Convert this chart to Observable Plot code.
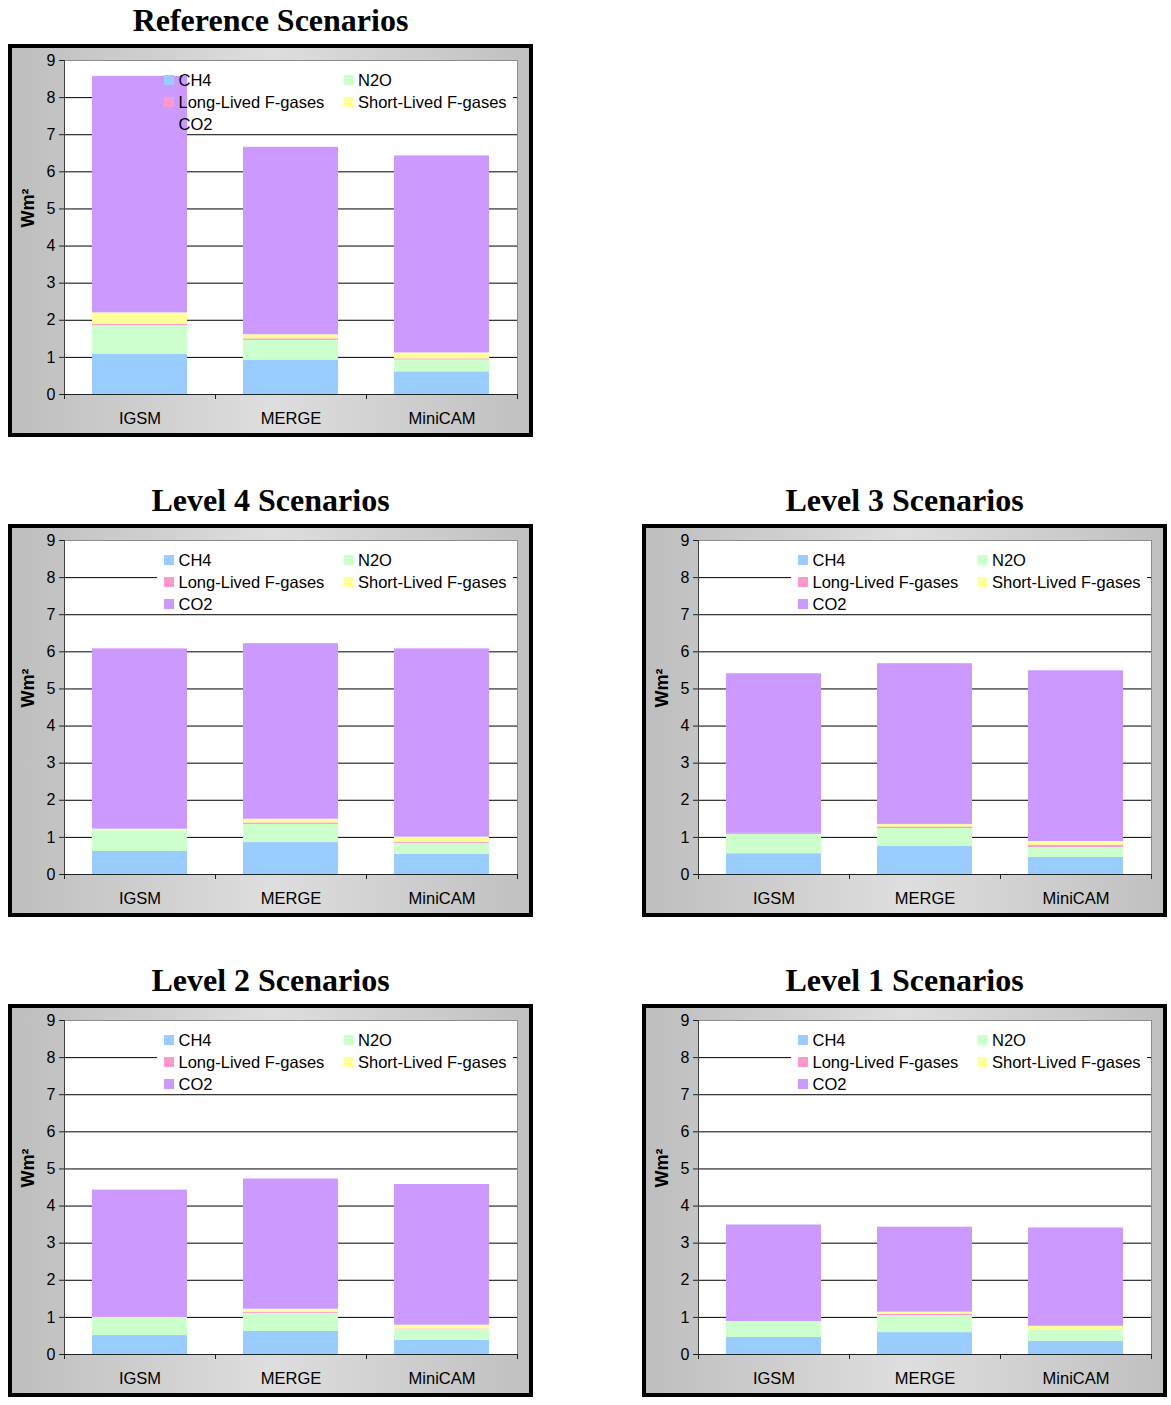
<!DOCTYPE html>
<html><head><meta charset="utf-8">
<script src="https://cdn.jsdelivr.net/npm/d3@7"></script>
<script src="https://cdn.jsdelivr.net/npm/@observablehq/plot@0.6"></script>
<style>
body{margin:0;background:#fff;}
#page{position:relative;width:1171px;height:1405px;}
.title{position:absolute;width:525px;text-align:center;font-family:"Liberation Serif","Times New Roman",serif;font-weight:bold;font-size:32px;line-height:36px;}
.frame{position:absolute;width:525px;height:393px;box-sizing:border-box;border:4px solid #000;background:linear-gradient(to right,#bebebe,#dedede 50%,#c0c0c0);}
.frame svg{display:block;}
</style></head><body><div id="page"></div>
<script>
// ---- data ----
const scenarios = ["Reference Scenarios", "Level 4 Scenarios", "Level 3 Scenarios", "Level 2 Scenarios", "Level 1 Scenarios"];
const models = ["IGSM", "MERGE", "MiniCAM"];
const gases = ["CH4", "N2O", "Long-Lived F-gases", "Short-Lived F-gases", "CO2"];
const colors = ["#99ccff", "#ccffcc", "#ff99cc", "#ffff99", "#cc99ff"];
const yTicks = [0, 1, 2, 3, 4, 5, 6, 7, 8, 9];
// values per scenario (Reference, L4, L3, L2, L1), each [IGSM, MERGE, MiniCAM]
const ch4 = [[1.09, 0.93, 0.61], [0.62, 0.86, 0.54], [0.56, 0.76, 0.46], [0.51, 0.62, 0.38], [0.46, 0.59, 0.35]];
const n2o = [[0.77, 0.53, 0.32], [0.56, 0.49, 0.30], [0.52, 0.48, 0.27], [0.49, 0.49, 0.30], [0.43, 0.46, 0.30]];
const longLived = [[0.03, 0.04, 0.03], [0.00, 0.04, 0.03], [0.03, 0.04, 0.06], [0.00, 0.03, 0.01], [0.00, 0.03, 0.00]];
const shortLived = [[0.31, 0.11, 0.16], [0.04, 0.10, 0.14], [0.00, 0.07, 0.10], [0.00, 0.08, 0.10], [0.00, 0.06, 0.11]];
const co2 = [[6.37, 5.05, 5.31], [4.86, 4.73, 5.07], [4.30, 4.33, 4.60], [3.43, 3.51, 3.79], [2.60, 2.29, 2.65]];
const series = [ch4, n2o, longLived, shortLived, co2];

// ---- layout ----
const framePos = [[8, 44], [8, 524], [642, 524], [8, 1004], [642, 1004]];
const page = document.getElementById("page");
const FONT = "'Liberation Sans', Arial, Helvetica, sans-serif";

function legendBg() {
  const g = d3.create("svg:g");
  g.append("rect").attr("x", 145).attr("y", 20).attr("width", 356).attr("height", 65).attr("fill", "white");
  return g.node();
}
function legendMark(index, scales) {
  const g = d3.create("svg:g").attr("font-family", FONT).attr("font-size", 16.5).attr("text-anchor", "start");
  gases.forEach((gas, i) => {
    const col = i % 2, row = Math.floor(i / 2);
    const sx = col === 0 ? 152 : 331.5, ty = 32 + row * 22;
    g.append("rect").attr("x", sx).attr("y", ty - 5).attr("width", 10).attr("height", 10).attr("fill", scales.color(gas));
    g.append("text").attr("x", sx + 14.5).attr("y", ty).attr("dy", "0.36em").attr("fill", "#000").text(gas);
  });
  return g.node();
}
function leftLine(index, scales, values, dims) {
  const g = d3.create("svg:g");
  g.append("line").attr("x1", dims.marginLeft + 0.5).attr("x2", dims.marginLeft + 0.5)
    .attr("y1", dims.marginTop).attr("y2", dims.height - dims.marginBottom)
    .attr("stroke", "#404040");
  return g.node();
}

scenarios.forEach((name, si) => {
  const [fx, fy] = framePos[si];
  const t = document.createElement("div");
  t.className = "title";
  t.style.left = fx + "px";
  t.style.top = (fy - 42) + "px";
  t.textContent = name;
  page.appendChild(t);

  const f = document.createElement("div");
  f.className = "frame";
  f.style.left = fx + "px";
  f.style.top = fy + "px";
  page.appendChild(f);

  const data = [];
  gases.forEach((g, gi) => models.forEach((m, mi) => data.push({model: m, gas: g, value: series[gi][si][mi]})));

  const chart = Plot.plot({
    width: 517, height: 385,
    marginLeft: 52, marginRight: 12, marginTop: 12, marginBottom: 39,
    style: {fontFamily: FONT, fontSize: "16px", background: "transparent", overflow: "visible", color: "#000"},
    x: {domain: models, paddingInner: 0.37, paddingOuter: 0.185, label: null},
    y: {domain: [0, 9], label: null},
    color: {domain: gases, range: colors},
    marks: [
      Plot.frame({fill: "white", stroke: "#8c8c8c"}),
      Plot.ruleY(yTicks.slice(1, 9), {stroke: "#000"}),
      legendBg,
      Plot.barY(data, {x: "model", y: "value", fill: "gas", order: gases}),
      Plot.ruleY([0], {stroke: "#222"}),
      leftLine,
      Plot.axisY({ticks: yTicks, tickSize: 5, tickPadding: 4, fontSize: 16, label: null, tickFormat: d => String(d), stroke: "#222"}),
      Plot.axisX({tickSize: 0, tickPadding: 18, fontSize: 16.5, label: null}),
      Plot.text(["Wm²"], {text: d => d, frameAnchor: "left", dx: -36, rotate: -90, fontWeight: "bold", fontSize: 18, fill: "#000"}),
      legendMark
    ]
  });

  // category-boundary tick marks on the x axis
  const xs = chart.scale("x");
  const [r0, r1] = xs.range;
  const step = (r1 - r0) / models.length;
  const ys = chart.scale("y");
  const y0 = ys.apply(0);
  const svg = d3.select(chart);
  d3.range(models.length + 1).forEach(i => {
    const x = Math.round(r0 + i * step) + 0.5;
    svg.append("line").attr("x1", x).attr("x2", x).attr("y1", y0).attr("y2", y0 + 5).attr("stroke", "#222");
  });

  f.appendChild(chart);
});
</script>
</body></html>
